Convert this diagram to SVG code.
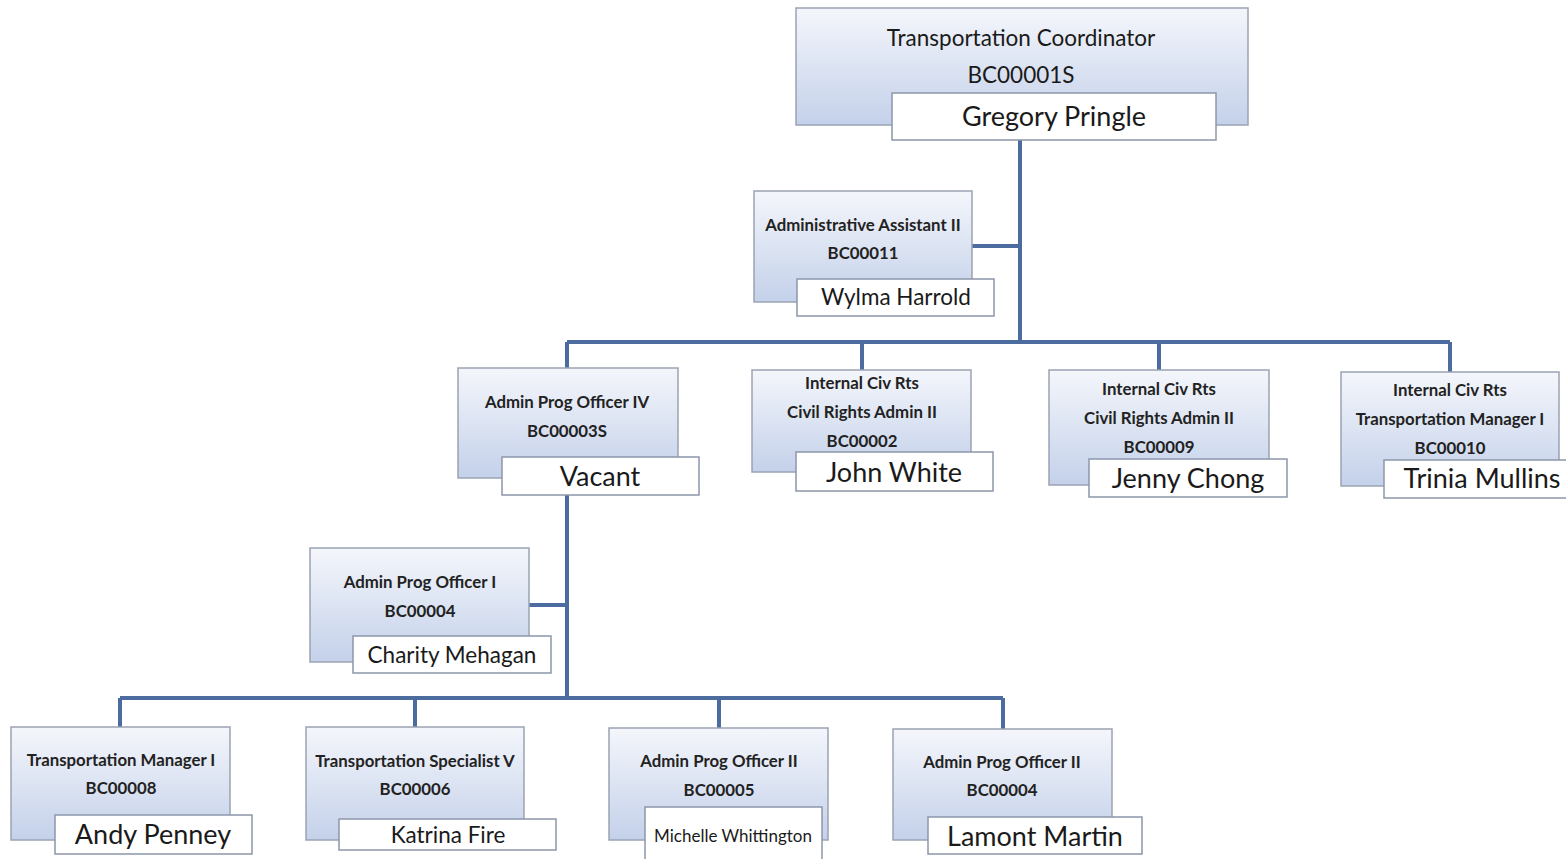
<svg xmlns="http://www.w3.org/2000/svg" width="1566" height="859" viewBox="0 0 1566 859">
<defs>
<linearGradient id="g" x1="0" y1="0" x2="0" y2="1">
<stop offset="0" stop-color="#f4f6fb"/>
<stop offset="1" stop-color="#c4d1ea"/>
</linearGradient>
</defs>
<style>
.box{fill:url(#g);stroke:#9aa3b3;stroke-width:1.5}
.nm{fill:#fff;stroke:#8c97aa;stroke-width:1.5}
.t{font-family:Lato,"Liberation Sans",sans-serif;font-size:16.8px;font-weight:bold;fill:#222;text-anchor:middle}
.tl{font-family:Lato,"Liberation Sans",sans-serif;font-size:22.5px;fill:#1a1a1a;text-anchor:middle}
.n{font-family:Lato,"Liberation Sans",sans-serif;font-size:27px;fill:#1a1a1a;text-anchor:middle}
.ns{font-family:Lato,"Liberation Sans",sans-serif;font-size:22.5px;fill:#1a1a1a;text-anchor:middle}
.nx{font-family:Lato,"Liberation Sans",sans-serif;font-size:17px;fill:#1a1a1a;text-anchor:middle}
.c{fill:none;stroke:#4c6b9f;stroke-width:4}
</style>
<rect width="1566" height="859" fill="#fff"/>
<g id="connectors">
<path class="c" d="M1020 140V342M972 246H1020M567 342H1450M567 342V368M862 342V370M1159 342V370M1450 342V372"/>
<path class="c" d="M567 495V698M529 605H567M120 698H1003M120 698V727M415 698V727M719 698V728M1003 698V729"/>
</g>
<g id="n1">
<rect class="box" x="796" y="8" width="452" height="117"/>
<text class="tl" x="1021" y="46">Transportation Coordinator</text>
<text class="tl" x="1021" y="83">BC00001S</text>
<rect class="nm" x="892" y="93" width="324" height="47"/>
<text class="n" x="1054" y="126">Gregory Pringle</text>
</g>
<g id="n2">
<rect class="box" x="754" y="191" width="218" height="111"/>
<text class="t" x="863" y="231">Administrative Assistant II</text>
<text class="t" x="863" y="259">BC00011</text>
<rect class="nm" x="797" y="279" width="197" height="37"/>
<text class="ns" x="896" y="305">Wylma Harrold</text>
</g>
<g id="n3">
<rect class="box" x="458" y="368" width="220" height="110"/>
<text class="t" x="567" y="408">Admin Prog Officer IV</text>
<text class="t" x="567" y="437">BC00003S</text>
<rect class="nm" x="502" y="457" width="197" height="38"/>
<text class="n" x="600" y="486">Vacant</text>
</g>
<g id="n4">
<rect class="box" x="752" y="370" width="219" height="102"/>
<text class="t" x="862" y="389">Internal Civ Rts</text>
<text class="t" x="862" y="418">Civil Rights Admin II</text>
<text class="t" x="862" y="447">BC00002</text>
<rect class="nm" x="796" y="452" width="197" height="39"/>
<text class="n" x="894" y="482">John White</text>
</g>
<g id="n5">
<rect class="box" x="1049" y="370" width="220" height="115"/>
<text class="t" x="1159" y="395">Internal Civ Rts</text>
<text class="t" x="1159" y="424">Civil Rights Admin II</text>
<text class="t" x="1159" y="453">BC00009</text>
<rect class="nm" x="1089" y="459" width="198" height="38"/>
<text class="n" x="1188" y="488">Jenny Chong</text>
</g>
<g id="n6">
<rect class="box" x="1341" y="372" width="218" height="114"/>
<text class="t" x="1450" y="396">Internal Civ Rts</text>
<text class="t" x="1450" y="425">Transportation Manager I</text>
<text class="t" x="1450" y="454">BC00010</text>
<rect class="nm" x="1384" y="460" width="190" height="38"/>
<text class="n" x="1482" y="488">Trinia Mullins</text>
</g>
<g id="n7">
<rect class="box" x="310" y="548" width="219" height="114"/>
<text class="t" x="420" y="588">Admin Prog Officer I</text>
<text class="t" x="420" y="617">BC00004</text>
<rect class="nm" x="353" y="636" width="198" height="37"/>
<text class="ns" x="452" y="663">Charity Mehagan</text>
</g>
<g id="n8">
<rect class="box" x="11" y="727" width="219" height="113"/>
<text class="t" x="121" y="766">Transportation Manager I</text>
<text class="t" x="121" y="794">BC00008</text>
<rect class="nm" x="55" y="815" width="197" height="39"/>
<text class="n" x="153" y="844">Andy Penney</text>
</g>
<g id="n9">
<rect class="box" x="306" y="727" width="218" height="113"/>
<text class="t" x="415" y="767">Transportation Specialist V</text>
<text class="t" x="415" y="795">BC00006</text>
<rect class="nm" x="339" y="819" width="217" height="31"/>
<text class="ns" x="448" y="843">Katrina Fire</text>
</g>
<g id="n10">
<rect class="box" x="609" y="728" width="219" height="112"/>
<text class="t" x="719" y="767">Admin Prog Officer II</text>
<text class="t" x="719" y="796">BC00005</text>
<rect class="nm" x="645" y="807" width="177" height="56"/>
<text class="nx" x="733" y="842">Michelle Whittington</text>
</g>
<g id="n11">
<rect class="box" x="893" y="729" width="219" height="111"/>
<text class="t" x="1002" y="768">Admin Prog Officer II</text>
<text class="t" x="1002" y="796">BC00004</text>
<rect class="nm" x="928" y="817" width="214" height="37"/>
<text class="n" x="1035" y="846">Lamont Martin</text>
</g>
</svg>
